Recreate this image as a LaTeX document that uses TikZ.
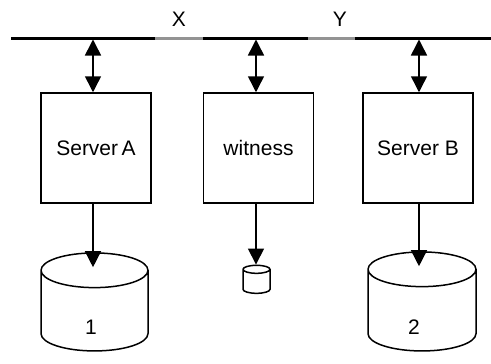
\documentclass[tikz,border=0pt]{standalone}
\usepackage{fontspec}
\setmainfont{Liberation Sans}
\usetikzlibrary{arrows.meta,shapes.geometric}
\begin{document}
\begin{tikzpicture}[x=1pt,y=-1pt,line width=1.5pt,
    >={Triangle[length=16pt,width=16pt]},
    box/.style={draw,minimum width=110pt,minimum height=110pt,font=\fontsize{21}{24}\selectfont},
    disk/.style={draw,cylinder,shape border rotate=90,aspect=5.2}]
  \useasboundingbox (0,0) rectangle (491,364);
  % the bus with two gray gaps
  \draw[line width=3pt] (11,38) -- (155,38);
  \draw[line width=3pt,gray!85] (155,38) -- (203,38);
  \draw[line width=3pt] (203,38) -- (308,38);
  \draw[line width=3pt,gray!85] (308,38) -- (355,38);
  \draw[line width=3pt] (355,38) -- (491,38);
  \node[font=\fontsize{21}{24}\selectfont] (x) at (179,19) {X};
  \node[font=\fontsize{21}{24}\selectfont] (y) at (340,19) {Y};
  \coordinate (tapA) at (93,39.5);
  \coordinate (tapW) at (256,39.5);
  \coordinate (tapB) at (419,39.5);
  % servers
  \node[box] (srvA) at (96,148) {Server\,A};
  \node[box] (wit) at (258.5,148) {witness};
  \node[box] (srvB) at (418,148) {Server B};
  % disks
  \node[disk,minimum width=107pt,minimum height=98pt] (disk1) at (94.5,314) {};
  \node[disk,aspect=1.2,minimum width=27pt,minimum height=28pt] (wdisk) at (256.5,283) {};
  \node[disk,minimum width=108pt,minimum height=99pt] (disk2) at (422,313.5) {};
  \node[font=\fontsize{21}{24}\selectfont] (one) at (91,327) {1};
  \node[font=\fontsize{21}{24}\selectfont] (two) at (414,327) {2};
  % links
  \draw[<->] (tapA) -- (tapA |- srvA.north);
  \draw[<->] (tapW) -- (tapW |- wit.north);
  \draw[<->] (tapB) -- (tapB |- srvB.north);
  \draw[->,shorten >=-15pt] (tapA |- srvA.south) -- (tapA |- disk1.north);
  \draw[->] (tapW |- wit.south) -- (tapW |- wdisk.north);
  \draw[->,shorten >=-15pt] (tapB |- srvB.south) -- (tapB |- disk2.north);
\end{tikzpicture}
\end{document}
